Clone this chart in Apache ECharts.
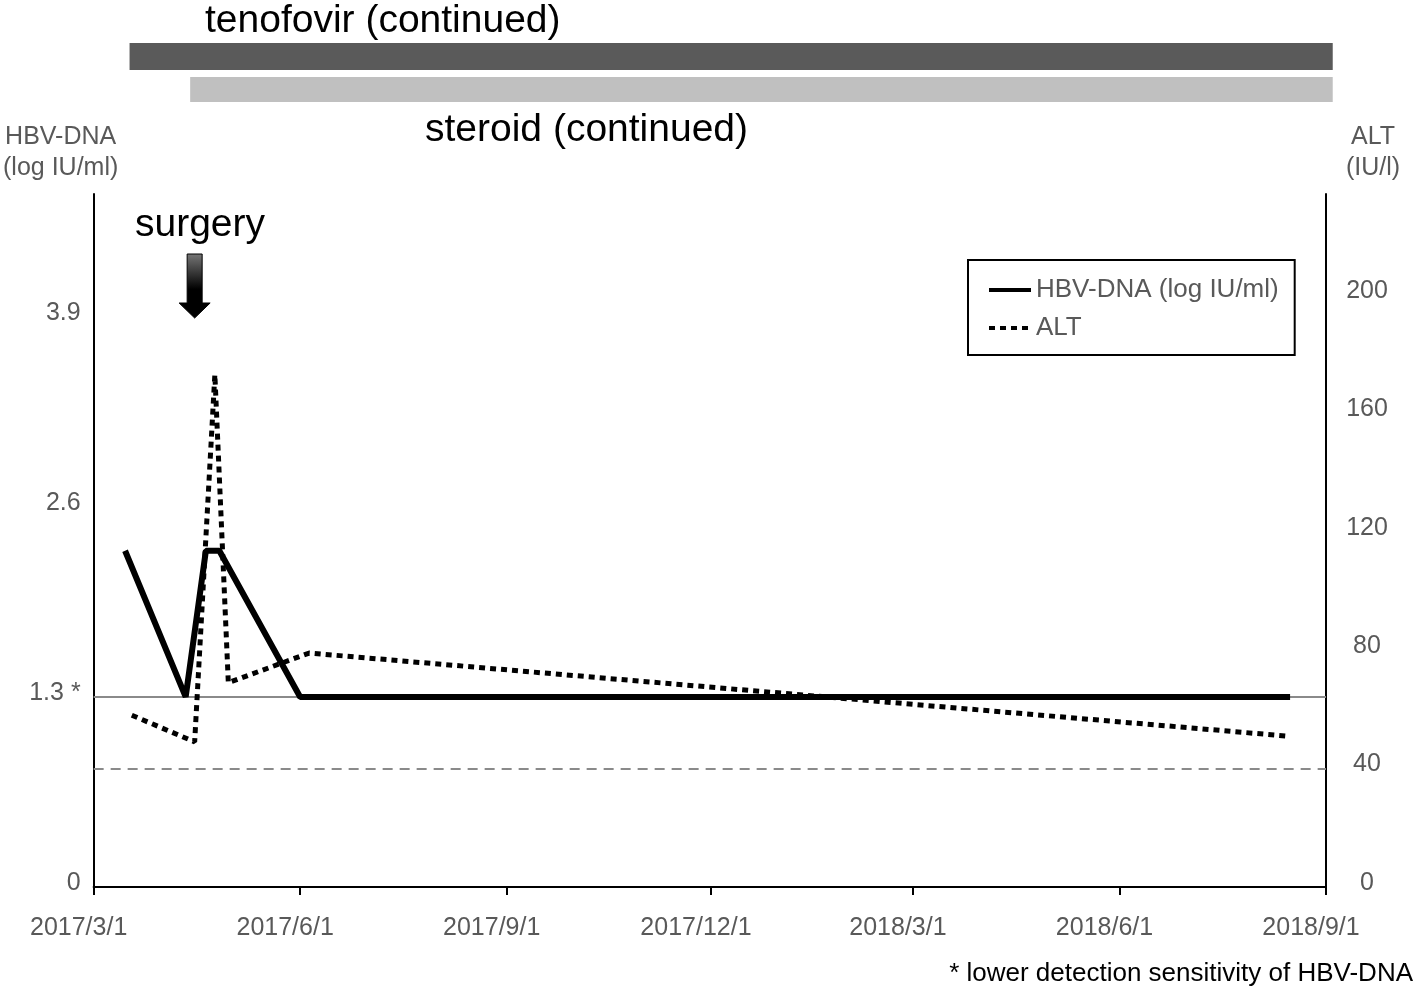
<!DOCTYPE html>
<html><head><meta charset="utf-8">
<script src="https://cdn.jsdelivr.net/npm/echarts@6/dist/echarts.min.js"></script>
<style>html,body{margin:0;padding:0;background:#fff}#c{width:1415px;height:990px}</style>
</head><body><div id="c"></div>
<script>
// ---- data ----
const hbvDates = ['2017-03-15','2017-04-11','2017-04-20','2017-04-26','2017-06-01','2018-08-16'];
const hbvValues = [2.3, 1.3, 2.3, 2.3, 1.3, 1.3];
const altDates = ['2017-03-18','2017-04-15','2017-04-24','2017-04-30','2017-06-05','2018-08-14'];
const altValues = [58, 49, 173, 69, 79, 51];
const xTickDates = ['2017-03-01','2017-06-01','2017-09-01','2017-12-01','2018-03-01','2018-06-01','2018-09-01'];
const xTickLabels = ['2017/3/1','2017/6/1','2017/9/1','2017/12/1','2018/3/1','2018/6/1','2018/9/1'];
const hbvTicks = [0, 1.3, 2.6, 3.9];
const hbvTickLabels = ['0', '1.3 *', '2.6', '3.9'];
const altTicks = [0, 40, 80, 120, 160, 200];
const lowerDetection = 1.3;
const altUpperNormal = 40;
const treatNames = ['tenofovir (continued)', 'steroid (continued)'];
const treatStart = ['2017-03-17', '2017-04-13'];
const treatEnd = '2018-09-04';
const surgeryDate = '2017-04-15';
const seriesNames = ['HBV-DNA (log IU/ml)', 'ALT'];

function ts(s){ const p = s.split('-').map(Number); return Date.UTC(p[0], p[1]-1, p[2]); }
const FONT = '"Liberation Sans", Arial, Helvetica, sans-serif';
const GRAY = '#595959';
const xTickValues = xTickDates.map(ts);

const chart = echarts.init(document.getElementById('c'), null, {renderer:'canvas'});
const option = {
  animation: false,
  textStyle: { fontFamily: FONT },
  grid: { left: 92, right: 89, top: 194, bottom: 103, containLabel: false },
  legend: {
    data: seriesNames, orient: 'vertical', left: 968, top: 260,
    itemWidth: 42, itemHeight: 14, itemGap: 12,
    padding: [17, 16, 14, 19],
    borderColor: '#000', borderWidth: 2,
    textStyle: { fontSize: 26, color: GRAY, fontFamily: FONT },
    lineStyle: { width: 4 },
    itemStyle: { opacity: 0 }
  },
  xAxis: {
    type: 'value', min: ts('2017-03-01'), max: ts('2018-09-01'),
    axisLine: { lineStyle: { color: '#000', width: 2 } },
    axisTick: { show: true, length: 8, lineStyle: { color: '#000', width: 2 }, customValues: xTickValues },
    axisLabel: {
      customValues: xTickValues, fontSize: 25, color: GRAY, margin: 29, fontFamily: FONT,
      align: 'center', padding: [0, 30, 0, 0],
      formatter: function(v){ const i = xTickValues.findIndex(t => Math.abs(t - v) < 86400000); return i >= 0 ? xTickLabels[i] : ''; }
    },
    splitLine: { show: false }
  },
  yAxis: [
    {
      type: 'value', min: 0, max: 4.74, position: 'left',
      name: 'HBV-DNA\n(log IU/ml)', nameLocation: 'end', nameGap: 10,
      nameTextStyle: { fontSize: 25, color: GRAY, lineHeight: 31, align: 'center', padding: [0, 66, 0, 0], fontFamily: FONT },
      axisLine: { show: true, lineStyle: { color: '#000', width: 2 } },
      axisTick: { show: false },
      splitLine: { show: false },
      axisLabel: {
        customValues: hbvTicks, fontSize: 25, color: GRAY, margin: 13, fontFamily: FONT,
        verticalAlign: 'bottom', lineHeight: 8,
        formatter: function(v){ const i = hbvTicks.findIndex(t => Math.abs(t - v) < 1e-6); return i >= 0 ? hbvTickLabels[i] : ''; }
      }
    },
    {
      type: 'value', min: 0, max: 234, position: 'right',
      name: 'ALT\n(IU/l)', nameLocation: 'end', nameGap: 10,
      nameTextStyle: { fontSize: 25, color: GRAY, lineHeight: 31, align: 'center', padding: [0, 0, 0, 94], fontFamily: FONT },
      axisLine: { show: true, lineStyle: { color: '#000', width: 2 } },
      axisTick: { show: false },
      splitLine: { show: false },
      axisLabel: {
        customValues: altTicks, fontSize: 25, color: GRAY, margin: 41, align: 'center', fontFamily: FONT,
        verticalAlign: 'bottom', lineHeight: 8
      }
    }
  ],
  series: [
    {
      name: 'ref1', type: 'line', yAxisIndex: 0, data: [], z: 1, silent: true,
      markLine: { z: 1, silent: true, symbol: ['none','none'], label: { show: false },
        lineStyle: { color: '#8a8a8a', width: 2, type: 'solid' },
        data: [{ yAxis: lowerDetection }] }
    },
    {
      name: 'ref2', type: 'line', yAxisIndex: 1, data: [], z: 1, silent: true,
      markLine: { z: 1, silent: true, symbol: ['none','none'], label: { show: false },
        lineStyle: { color: '#8a8a8a', width: 2, type: [10, 7] },
        data: [{ yAxis: altUpperNormal }] }
    },
    {
      name: seriesNames[0], type: 'line', yAxisIndex: 0, z: 3, symbol: 'none',
      lineStyle: { color: '#000', width: 6, type: 'solid' }, itemStyle: { color: '#000' },
      data: hbvDates.map((d, i) => [ts(d), hbvValues[i]])
    },
    {
      name: seriesNames[1], type: 'line', yAxisIndex: 1, z: 3, symbol: 'none',
      lineStyle: { color: '#000', width: 5, type: [6, 5] }, itemStyle: { color: '#000' },
      data: altDates.map((d, i) => [ts(d), altValues[i]])
    }
  ]
};
chart.setOption(option);

const px = d => chart.convertToPixel({ xAxisIndex: 0 }, ts(d));
const xEnd = px(treatEnd);
const x1 = px(treatStart[0]), x2 = px(treatStart[1]);
const sx = px(surgeryDate);
chart.setOption({
  graphic: [
    { type: 'rect', shape: { x: x1, y: 43, width: xEnd - x1, height: 27 }, style: { fill: '#5a5a5a' } },
    { type: 'rect', shape: { x: x2, y: 77, width: xEnd - x2, height: 25 }, style: { fill: '#c0c0c0' } },
    { type: 'text', x: 205, y: 21, style: { text: treatNames[0], font: '39px ' + FONT, fill: '#000', verticalAlign: 'middle' } },
    { type: 'text', x: 425, y: 130, style: { text: treatNames[1], font: '39px ' + FONT, fill: '#000', verticalAlign: 'middle' } },
    { type: 'text', x: 135, y: 225, style: { text: 'surgery', font: '39px ' + FONT, fill: '#000', verticalAlign: 'middle' } },
    { type: 'polygon', shape: { points: [[sx-7.5,254],[sx+7.5,254],[sx+7.5,303],[sx+15.5,303],[sx,318],[sx-15.5,303],[sx-7.5,303]] },
      style: { fill: new echarts.graphic.LinearGradient(0,0,0,1,[{offset:0,color:'#777'},{offset:0.55,color:'#000'},{offset:1,color:'#000'}]), stroke: '#000', lineWidth: 1 } },
    { type: 'text', right: 2, y: 974, style: { text: '* lower detection sensitivity of HBV-DNA', font: '26px ' + FONT, fill: '#000', verticalAlign: 'middle' } }
  ]
});
</script></body></html>
